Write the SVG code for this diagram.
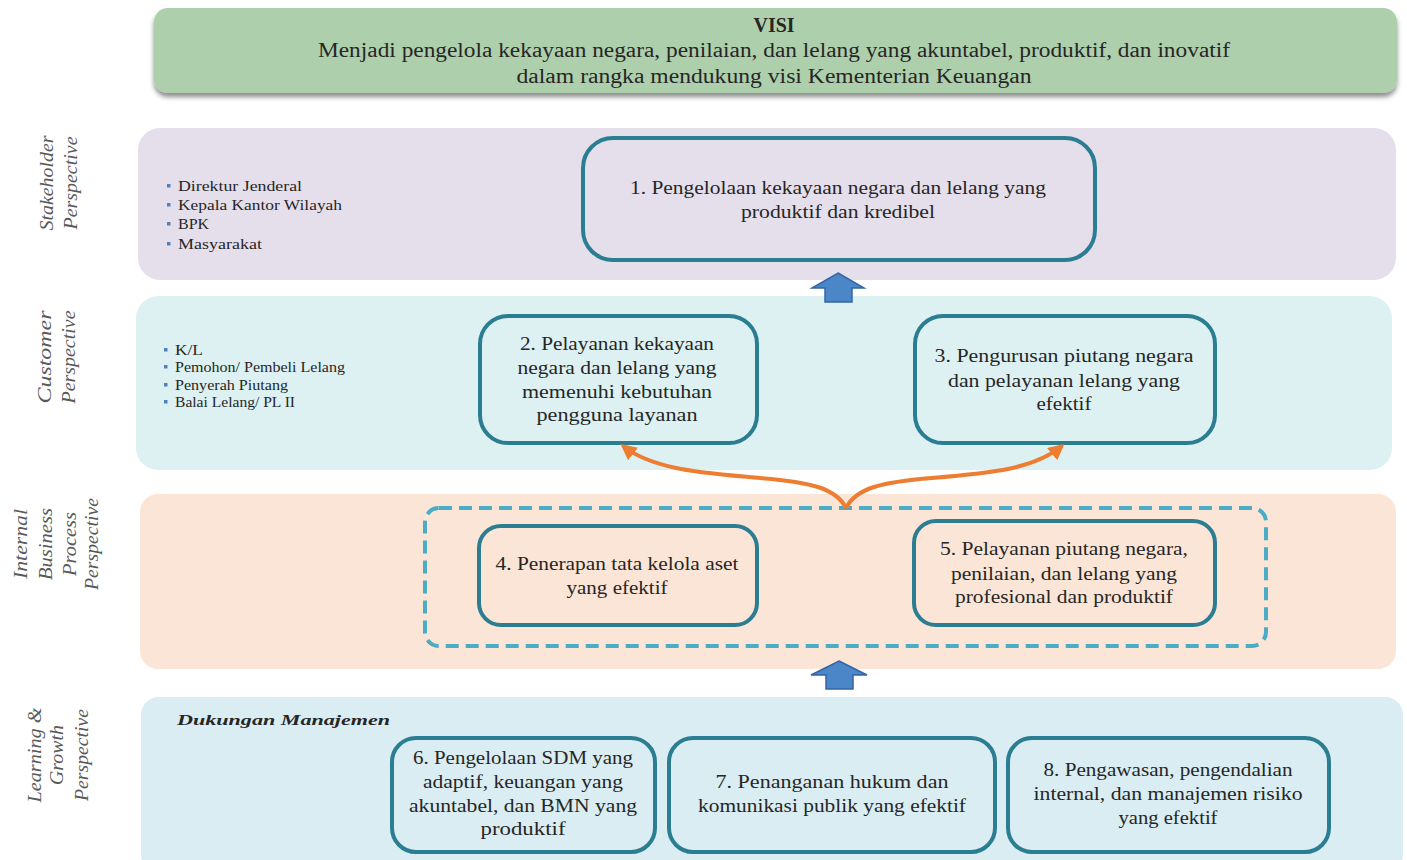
<svg xmlns="http://www.w3.org/2000/svg" width="1407" height="860" viewBox="0 0 1407 860">
<defs>
<style>
.t{font-family:"Liberation Serif","Times New Roman",serif;fill:#262626;text-anchor:middle;font-size:18px}
.v{font-size:20px}
.b{font-family:"Liberation Serif","Times New Roman",serif;fill:#262626;font-size:14px}
.lab{font-family:"Liberation Serif","Times New Roman",serif;fill:#595959;font-style:italic;font-size:19px;text-anchor:middle}
.box{fill:none;stroke:#2B7D92;stroke-width:4}
.blk{fill:#4A86C8;stroke:#3465A4;stroke-width:1.5}
.dot{fill:#4F81BD}
</style>
<filter id="sh" x="-5%" y="-20%" width="110%" height="150%">
<feDropShadow dx="0" dy="4" stdDeviation="2.5" flood-color="#000" flood-opacity="0.45"/>
</filter>
<marker id="oa" viewBox="0 0 10 10" refX="8" refY="5" markerWidth="4" markerHeight="4" orient="auto" markerUnits="strokeWidth">
<path d="M0,0 L10,5 L0,10 z" fill="#ED7D31"/>
</marker>
</defs>
<rect width="1407" height="860" fill="#fff"/>

<g id="visi">
<rect x="154" y="8" width="1243" height="85" rx="14" fill="#AECFAC" filter="url(#sh)"/>
<text class="t v" x="774" y="32" font-weight="bold" textLength="41" lengthAdjust="spacingAndGlyphs">VISI</text>
<text class="t v" x="774" y="57" textLength="912" lengthAdjust="spacingAndGlyphs">Menjadi pengelola kekayaan negara, penilaian, dan lelang yang akuntabel, produktif, dan inovatif</text>
<text class="t v" x="774" y="83" textLength="515" lengthAdjust="spacingAndGlyphs">dalam rangka mendukung visi Kementerian Keuangan</text>
</g>

<g id="band-stakeholder">
<rect x="138" y="128" width="1258" height="152" rx="22" fill="#E5DFEC"/>
<text class="lab" transform="translate(53,183) rotate(-90)" textLength="95" lengthAdjust="spacingAndGlyphs">Stakeholder</text>
<text class="lab" transform="translate(77,183) rotate(-90)" textLength="93" lengthAdjust="spacingAndGlyphs">Perspective</text>
<rect class="dot" x="167" y="184" width="3.5" height="3.5"/>
<rect class="dot" x="167" y="203" width="3.5" height="3.5"/>
<rect class="dot" x="167" y="222" width="3.5" height="3.5"/>
<rect class="dot" x="167" y="242" width="3.5" height="3.5"/>
<text class="b" x="178" y="191" textLength="124" lengthAdjust="spacingAndGlyphs">Direktur Jenderal</text>
<text class="b" x="178" y="210" textLength="164" lengthAdjust="spacingAndGlyphs">Kepala Kantor Wilayah</text>
<text class="b" x="178" y="229" textLength="31" lengthAdjust="spacingAndGlyphs">BPK</text>
<text class="b" x="178" y="249" textLength="84" lengthAdjust="spacingAndGlyphs">Masyarakat</text>
</g>

<g id="band-customer">
<rect x="136" y="296" width="1256" height="174" rx="22" fill="#DDF1F3"/>
<text class="lab" transform="translate(51,357) rotate(-90)" textLength="93" lengthAdjust="spacingAndGlyphs">Customer</text>
<text class="lab" transform="translate(75,357) rotate(-90)" textLength="93" lengthAdjust="spacingAndGlyphs">Perspective</text>
<rect class="dot" x="164" y="348" width="3.5" height="3.5"/>
<rect class="dot" x="164" y="365" width="3.5" height="3.5"/>
<rect class="dot" x="164" y="383" width="3.5" height="3.5"/>
<rect class="dot" x="164" y="400" width="3.5" height="3.5"/>
<text class="b" x="175" y="355" font-size="13" textLength="28" lengthAdjust="spacingAndGlyphs">K/L</text>
<text class="b" x="175" y="372" font-size="13" textLength="170" lengthAdjust="spacingAndGlyphs">Pemohon/ Pembeli Lelang</text>
<text class="b" x="175" y="390" font-size="13" textLength="113" lengthAdjust="spacingAndGlyphs">Penyerah Piutang</text>
<text class="b" x="175" y="407" font-size="13" textLength="120" lengthAdjust="spacingAndGlyphs">Balai Lelang/ PL II</text>
</g>

<g id="band-internal">
<rect x="140" y="494" width="1256" height="175" rx="18" fill="#FBE5D6"/>
<text class="lab" transform="translate(27,544) rotate(-90)" textLength="70" lengthAdjust="spacingAndGlyphs">Internal</text>
<text class="lab" transform="translate(52,544) rotate(-90)" textLength="72" lengthAdjust="spacingAndGlyphs">Business</text>
<text class="lab" transform="translate(76,544) rotate(-90)" textLength="64" lengthAdjust="spacingAndGlyphs">Process</text>
<text class="lab" transform="translate(98,544) rotate(-90)" textLength="92" lengthAdjust="spacingAndGlyphs">Perspective</text>
</g>

<g id="band-learning">
<rect x="141" y="697" width="1262" height="175" rx="18" fill="#DAEDF3"/>
<text class="lab" transform="translate(41,755) rotate(-90)" textLength="95" lengthAdjust="spacingAndGlyphs">Learning &amp;</text>
<text class="lab" transform="translate(63,755) rotate(-90)" textLength="60" lengthAdjust="spacingAndGlyphs">Growth</text>
<text class="lab" transform="translate(88,755) rotate(-90)" textLength="92" lengthAdjust="spacingAndGlyphs">Perspective</text>
<text class="b" x="177" y="725" font-size="18" font-weight="bold" font-style="italic" textLength="213" lengthAdjust="spacingAndGlyphs">Dukungan Manajemen</text>
</g>

<g id="node1">
<rect class="box" x="583" y="138" width="512" height="122" rx="30"/>
<text class="t" x="838" y="194" textLength="416" lengthAdjust="spacingAndGlyphs">1. Pengelolaan kekayaan negara dan lelang yang</text>
<text class="t" x="838" y="218" textLength="194" lengthAdjust="spacingAndGlyphs">produktif dan kredibel</text>
</g>

<g id="node2">
<rect class="box" x="480" y="316" width="277" height="127" rx="28"/>
<text class="t" x="617" y="350" textLength="194" lengthAdjust="spacingAndGlyphs">2. Pelayanan kekayaan</text>
<text class="t" x="617" y="374" textLength="199" lengthAdjust="spacingAndGlyphs">negara dan lelang yang</text>
<text class="t" x="617" y="398" textLength="190" lengthAdjust="spacingAndGlyphs">memenuhi kebutuhan</text>
<text class="t" x="617" y="421" textLength="161" lengthAdjust="spacingAndGlyphs">pengguna layanan</text>
</g>

<g id="node3">
<rect class="box" x="915" y="316" width="300" height="127" rx="28"/>
<text class="t" x="1064" y="362" textLength="259" lengthAdjust="spacingAndGlyphs">3. Pengurusan piutang negara</text>
<text class="t" x="1064" y="387" textLength="232" lengthAdjust="spacingAndGlyphs">dan pelayanan lelang yang</text>
<text class="t" x="1064" y="410" textLength="55" lengthAdjust="spacingAndGlyphs">efektif</text>
</g>

<g id="group-internal">
<rect x="425" y="508" width="841" height="138" rx="14" fill="none" stroke="#4BACC6" stroke-width="4" stroke-dasharray="13,7"/>
</g>

<g id="node4">
<rect class="box" x="479" y="526" width="278" height="99" rx="22"/>
<text class="t" x="617" y="570" textLength="243" lengthAdjust="spacingAndGlyphs">4. Penerapan tata kelola aset</text>
<text class="t" x="617" y="594" textLength="101" lengthAdjust="spacingAndGlyphs">yang efektif</text>
</g>

<g id="node5">
<rect class="box" x="914" y="521" width="301" height="104" rx="22"/>
<text class="t" x="1064" y="555" textLength="248" lengthAdjust="spacingAndGlyphs">5. Pelayanan piutang negara,</text>
<text class="t" x="1064" y="580" textLength="226" lengthAdjust="spacingAndGlyphs">penilaian, dan lelang yang</text>
<text class="t" x="1064" y="603" textLength="218" lengthAdjust="spacingAndGlyphs">profesional dan produktif</text>
</g>

<g id="node6">
<rect class="box" x="392" y="738" width="263" height="114" rx="24"/>
<text class="t" x="523" y="764" textLength="220" lengthAdjust="spacingAndGlyphs">6. Pengelolaan SDM yang</text>
<text class="t" x="523" y="788" textLength="200" lengthAdjust="spacingAndGlyphs">adaptif, keuangan yang</text>
<text class="t" x="523" y="812" textLength="228" lengthAdjust="spacingAndGlyphs">akuntabel, dan BMN yang</text>
<text class="t" x="523" y="835" textLength="85" lengthAdjust="spacingAndGlyphs">produktif</text>
</g>

<g id="node7">
<rect class="box" x="669" y="738" width="326" height="114" rx="24"/>
<text class="t" x="832" y="788" textLength="233" lengthAdjust="spacingAndGlyphs">7. Penanganan hukum dan</text>
<text class="t" x="832" y="812" textLength="268" lengthAdjust="spacingAndGlyphs">komunikasi publik yang efektif</text>
</g>

<g id="node8">
<rect class="box" x="1008" y="738" width="321" height="114" rx="24"/>
<text class="t" x="1168" y="776" textLength="249" lengthAdjust="spacingAndGlyphs">8. Pengawasan, pengendalian</text>
<text class="t" x="1168" y="800" textLength="269" lengthAdjust="spacingAndGlyphs">internal, dan manajemen risiko</text>
<text class="t" x="1168" y="824" textLength="99" lengthAdjust="spacingAndGlyphs">yang efektif</text>
</g>

<g id="connectors">
<polygon class="blk" points="838,273 864,288 852,288 852,302 825,302 825,288 812,288"/>
<polygon class="blk" points="839,661 867,675 853,675 853,689 826,689 826,675 811,675"/>
<path d="M846,508 C836,488 810,482 760,478 C700,473 652,469 623,446" fill="none" stroke="#ED7D31" stroke-width="4" marker-end="url(#oa)"/>
<path d="M846,508 C856,488 882,482 932,478 C992,473 1034,469 1062,446" fill="none" stroke="#ED7D31" stroke-width="4" marker-end="url(#oa)"/>
</g>
</svg>
